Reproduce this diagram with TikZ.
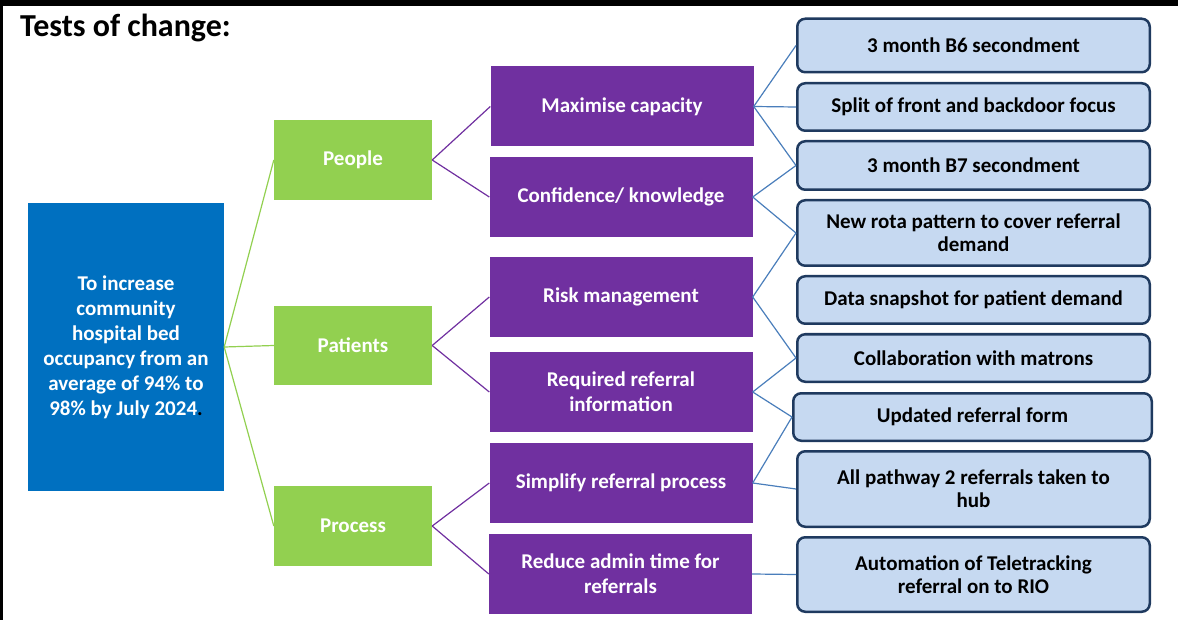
\documentclass[tikz,border=0pt]{standalone}
\usepackage{fontspec}
\setmainfont{Carlito}
\usetikzlibrary{positioning}
\definecolor{goalblue}{HTML}{0070C0}
\definecolor{drivergreen}{HTML}{92D050}
\definecolor{changepurple}{HTML}{7030A0}
\definecolor{testfill}{HTML}{C6D9F1}
\definecolor{testedge}{HTML}{1F3A5F}
\definecolor{linkblue}{HTML}{4A7EBB}
\tikzstyle{goal} = [rectangle, minimum width=196pt, minimum height=288pt, align=center, fill=goalblue, text=white, font=\bfseries\fontsize{21}{25}\selectfont]
\tikzstyle{driver} = [rectangle, minimum width=158pt, minimum height=80pt, align=center, fill=drivergreen, text=white, font=\bfseries\fontsize{21}{25}\selectfont]
\tikzstyle{change} = [rectangle, minimum width=263pt, minimum height=80pt, align=center, fill=changepurple, text=white, font=\bfseries\fontsize{21}{25}\selectfont]
\tikzstyle{test} = [rectangle, rounded corners=8pt, minimum width=352.5pt, align=center, draw=testedge, line width=2.5pt, fill=testfill, font=\bfseries\fontsize{21}{23}\selectfont]
\tikzstyle{greenline} = [drivergreen, line width=1.2pt]
\tikzstyle{purpleline} = [changepurple, line width=1.2pt]
\tikzstyle{blueline} = [linkblue, line width=1.2pt]

\begin{document}
\begin{tikzpicture}[x=1pt, y=-1pt]
\useasboundingbox (0,0) rectangle (1178,620);

% Frame
\fill[black] (0,0.5) rectangle (1178,6.5);
\fill[black] (0,0) rectangle (3,620);
\node (title) [anchor=base west, inner sep=0pt, font=\bfseries\fontsize{32}{36}\selectfont] at (20,37) {Tests of change:};

% Nodes
\node (goal) [goal] at (126,347) {To increase\\community\\hospital bed\\occupancy from an\\average of 94\% to\\98\% by July 2024{\color{black}.}};

\node (people) [driver] at (353,160) {People};
\node (patients) [driver, minimum height=79pt] at (353,345.5) {Patients};
\node (process) [driver] at (353,526) {Process};

\node (capacity) [change] at (622,106.5) {Maximise capacity};
\node (knowledge) [change] at (621,197) {Confidence/ knowledge};
\node (risk) [change] at (621,297) {Risk management};
\node (referinfo) [change] at (621,392) {Required referral\\information};
\node (simplify) [change] at (621,483) {Simplify referral process};
\node (admin) [change] at (620.5,574) {Reduce admin time for\\referrals};

\node (b6) [test, minimum height=53.5pt] at (973.5,45.5) {3 month B6 secondment};
\node (split) [test, minimum height=47.5pt] at (973.5,107) {Split of front and backdoor focus};
\node (b7) [test, minimum height=48.5pt] at (973.5,165.5) {3 month B7 secondment};
\node (rota) [test, minimum height=65.5pt] at (973.5,233) {New rota pattern to cover referral\\demand};
\node (snapshot) [test, minimum height=47.5pt] at (973.5,300) {Data snapshot for patient demand};
\node (matrons) [test, minimum height=47.5pt] at (973.5,358) {Collaboration with matrons};
\node (form) [test, minimum width=358.5pt, minimum height=47.5pt] at (972.5,417) {Updated referral form};
\node (hub) [test, minimum height=75.5pt] at (973.5,489) {All pathway 2 referrals taken to\\hub};
\node (rio) [test, minimum height=74.5pt] at (973.5,574.5) {Automation of Teletracking\\referral on to RIO};

% Connectors
\draw [greenline] (goal.east) -- (people.west);
\draw [greenline] (goal.east) -- (patients.west);
\draw [greenline] (goal.east) -- (process.west);

\draw [purpleline] (people.east) -- (capacity.west);
\draw [purpleline] (people.east) -- (knowledge.west);
\draw [purpleline] (patients.east) -- (risk.west);
\draw [purpleline] (patients.east) -- (referinfo.west);
\draw [purpleline] (process.east) -- (simplify.west);
\draw [purpleline] (process.east) -- (admin.west);

\draw [blueline] (capacity.east) -- (b6.west);
\draw [blueline] (capacity.east) -- (split.west);
\draw [blueline] (capacity.east) -- (b7.west);
\draw [blueline] (knowledge.east) -- (b7.west);
\draw [blueline] (knowledge.east) -- (rota.west);
\draw [blueline] (risk.east) -- (rota.west);
\draw [blueline] (risk.east) -- (matrons.west);
\draw [blueline] (referinfo.east) -- (matrons.west);
\draw [blueline] (referinfo.east) -- (form.west);
\draw [blueline] (simplify.east) -- (form.west);
\draw [blueline] (simplify.east) -- (hub.west);
\draw [blueline] (admin.east) -- (rio.west);

\end{tikzpicture}
\end{document}
